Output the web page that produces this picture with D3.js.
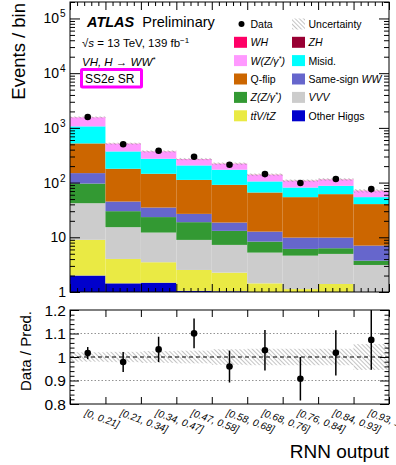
<!DOCTYPE html>
<html><head><meta charset="utf-8">
<script src="https://cdn.jsdelivr.net/npm/d3@7"></script>
<style>
body{margin:0;background:#fff}
svg{display:block;font-family:"Liberation Sans",Arial,Helvetica,sans-serif}
</style>
</head><body>
<svg id="chart" width="396" height="465"></svg>
<script>
// RNN output bins
const binLabels = ["[0, 0.21]", "[0.21, 0.34]", "[0.34, 0.47]", "[0.47, 0.58]", "[0.58, 0.68]",
                   "[0.68, 0.76]", "[0.76, 0.84]", "[0.84, 0.93]", "[0.93, 1]"];

// Expected events per bin, one array per process (stacked bottom to top)
const otherHiggs = [2.0, 1.44, 1.48, 1.05, 1.03, 0.5, 0.4, 0.4, 0.3];
const ttVtZ      = [7.0, 2.58, 2.02, 1.48, 1.23, 0.94, 0.73, 1.0, 0.5];
const vvv        = [33, 11.3, 8.7, 6.43, 5.0, 3.81, 3.49, 3.57, 2.32];
const zzg        = [54, 14.7, 11.2, 9.94, 5.84, 3.09, 1.51, 1.34, 0.62];
const ssWW       = [53, 15, 11.6, 7.9, 5.5, 4.36, 3.75, 3.57, 3.31];
const qflip      = [371, 134, 110, 85.2, 72.4, 53.2, 44.3, 51.6, 33.4];
const misid      = [546, 192, 128, 94, 81, 39.1, 27.1, 25.9, 13.8];
const wzg        = [486, 140.5, 96.1, 61.5, 47.7, 33, 25.9, 25.8, 16.0];
const zh         = [1.0, 0.5, 0.4, 0.3, 0.3, 0.2, 0.2, 0.2, 0.1];
const wh         = [4.0, 2.0, 1.5, 1.2, 1.0, 0.8, 0.6, 0.6, 0.5];

// Observed data and its statistical uncertainty
const dataCounts = [1583, 503, 383, 296, 212, 143, 98, 116, 76];
const dataErr    = [40, 22, 20, 17, 15, 12, 10, 11, 9];

// Relative uncertainty of the total prediction
const predRelUnc = [0.02, 0.022, 0.025, 0.027, 0.033, 0.035, 0.035, 0.035, 0.055];

// Axis tick labels
const mainYLabels  = [[1, "1", null], [10, "10", null], [100, "10", "2"], [1000, "10", "3"], [10000, "10", "4"], [100000, "10", "5"]];
const ratioYLabels = [0.8, 0.9, 1, 1.1, 1.2];

const processes = [
  {key: "otherHiggs", values: otherHiggs, color: "#0000cc"},
  {key: "ttVtZ",      values: ttVtZ,      color: "#eaea44"},
  {key: "vvv",        values: vvv,        color: "#cccccc"},
  {key: "zzg",        values: zzg,        color: "#339933"},
  {key: "ssWW",       values: ssWW,       color: "#6666cc"},
  {key: "qflip",      values: qflip,      color: "#cc6600"},
  {key: "misid",      values: misid,      color: "#00ffff"},
  {key: "wzg",        values: wzg,        color: "#ff99ff"},
  {key: "zh",         values: zh,         color: "#990033"},
  {key: "wh",         values: wh,         color: "#ff0066"}
];
const colorOf = Object.fromEntries(processes.map(p => [p.key, p.color]));

const nBins = binLabels.length;
const rows = d3.range(nBins).map(i => {
  const r = {bin: i};
  processes.forEach(p => r[p.key] = p.values[i]);
  return r;
});
const totals = rows.map(r => d3.sum(processes, p => r[p.key]));

// Layout
const left = 70, right = 389;
const mainTop = 2, mainBottom = 292;
const ratioTop = 310, ratioBottom = 404;

const svg = d3.select("#chart");
const defs = svg.append("defs");
const hatch = defs.append("pattern").attr("id", "hatch")
  .attr("patternUnits", "userSpaceOnUse").attr("width", 3).attr("height", 3)
  .attr("patternTransform", "rotate(-45)");
hatch.append("line").attr("x1", 0).attr("y1", 0).attr("x2", 0).attr("y2", 3)
  .attr("stroke", "#8a8a8a").attr("stroke-width", 1);

const x = d3.scaleLinear().domain([0, nBins]).range([left, right]);
const y = d3.scaleLog().domain([1, 2e5]).range([mainBottom, mainTop]).clamp(true);
const yr = d3.scaleLinear().domain([0.8, 1.2]).range([ratioBottom, ratioTop]).clamp(true);

// ---------- Main panel ----------
const stacked = d3.stack().keys(processes.map(p => p.key))(rows);
const gStack = svg.append("g");
stacked.forEach(layer => {
  gStack.selectAll(null).data(layer).join("rect")
    .attr("x", (d, i) => x(i))
    .attr("width", (d, i) => x(i + 1) - x(i))
    .attr("y", d => y(d[1]))
    .attr("height", d => Math.max(0, y(d[0]) - y(d[1])))
    .attr("fill", colorOf[layer.key]);
});

// prediction uncertainty on top of the stack
svg.append("g").selectAll("rect").data(totals).join("rect")
  .attr("x", (d, i) => x(i)).attr("width", (d, i) => x(i + 1) - x(i))
  .attr("y", (d, i) => y(d * (1 + predRelUnc[i])) - 0.5)
  .attr("height", (d, i) => y(d * (1 - predRelUnc[i])) - y(d * (1 + predRelUnc[i])) + 1)
  .attr("fill", "url(#hatch)");

// data points
const gData = svg.append("g");
gData.selectAll("line").data(dataCounts).join("line")
  .attr("x1", (d, i) => x(i + 0.5)).attr("x2", (d, i) => x(i + 0.5))
  .attr("y1", (d, i) => y(d + dataErr[i])).attr("y2", (d, i) => y(d - dataErr[i]))
  .attr("stroke", "#000").attr("stroke-width", 1.5);
gData.selectAll("circle").data(dataCounts).join("circle")
  .attr("cx", (d, i) => x(i + 0.5)).attr("cy", d => y(d)).attr("r", 3.3).attr("fill", "#000");

// axes of main panel
const logTicks = y.ticks().filter(v => v <= 2e5);
const isDecade = v => Math.abs(Math.log10(v) - Math.round(Math.log10(v))) < 1e-9;

const gyl = svg.append("g").attr("transform", `translate(${left},0)`)
  .call(d3.axisLeft(y).tickValues(logTicks).tickSize(-9).tickFormat(""));
gyl.select(".domain").remove();
gyl.selectAll(".tick line").attr("x2", d => isDecade(d) ? 10 : 5).attr("stroke", "#000");

const gyr = svg.append("g").attr("transform", `translate(${right},0)`)
  .call(d3.axisRight(y).tickValues(logTicks).tickSize(-9).tickFormat(""));
gyr.select(".domain").remove();
gyr.selectAll(".tick line").attr("x2", d => isDecade(d) ? -10 : -5).attr("stroke", "#000");

const xMinor = d3.range(0, nBins * 5 + 1).map(i => i / 5);
const isEdge = v => Math.abs(v - Math.round(v)) < 1e-9;

const gxb = svg.append("g").attr("transform", `translate(0,${mainBottom})`)
  .call(d3.axisBottom(x).tickValues(xMinor).tickSize(-7).tickFormat(""));
gxb.select(".domain").remove();
gxb.selectAll(".tick line").attr("y2", d => isEdge(d) ? -8 : -4).attr("stroke", "#000");

const gxt = svg.append("g").attr("transform", `translate(0,${mainTop})`)
  .call(d3.axisTop(x).tickValues(xMinor).tickSize(-7).tickFormat(""));
gxt.select(".domain").remove();
gxt.selectAll(".tick line").attr("y2", d => isEdge(d) ? 8 : 4).attr("stroke", "#000");

svg.append("rect").attr("x", left).attr("y", mainTop)
  .attr("width", right - left).attr("height", mainBottom - mainTop)
  .attr("fill", "none").attr("stroke", "#000").attr("stroke-width", 1);

// y tick labels with exponents
mainYLabels.forEach(([v, base, exp]) => {
  const t = svg.append("text").attr("x", exp ? 59 : 66).attr("y", y(v) + 5)
    .attr("text-anchor", "end").attr("font-size", 14).text(base);
  if (exp) {
    svg.append("text").attr("x", 60).attr("y", y(v) - 1)
      .attr("font-size", 10).text(exp);
  }
});

svg.append("text").attr("transform", `translate(25,${mainTop + 1}) rotate(-90)`)
  .attr("text-anchor", "end").attr("font-size", 18.5).text("Events / bin");

// ATLAS label and region text
const atlas = svg.append("text").attr("x", 87).attr("y", 27).attr("font-size", 14.5);
atlas.append("tspan").attr("font-weight", "bold").attr("font-style", "italic").text("ATLAS");
atlas.append("tspan").attr("dx", 8).text("Preliminary");

const energy = svg.append("text").attr("x", 82).attr("y", 47).attr("font-size", 11.5);
energy.append("tspan").text("\u221A");
energy.append("tspan").attr("font-style", "italic").text("s");
energy.append("tspan").text(" = 13 TeV, 139 fb");
energy.append("tspan").attr("dy", -4).attr("font-size", 8).text("\u22121");

const proc = svg.append("text").attr("x", 82).attr("y", 66).attr("font-size", 11.5).attr("font-style", "italic");
proc.append("tspan").text("VH, H \u2192 WW");
proc.append("tspan").attr("dy", -4).attr("font-size", 8).text("*");

svg.append("rect").attr("x", 81.5).attr("y", 69.5).attr("width", 60).attr("height", 17.5)
  .attr("fill", "none").attr("stroke", "#ff00ff").attr("stroke-width", 3).attr("rx", 1);
const sr = svg.append("text").attr("x", 85).attr("y", 83).attr("font-size", 12);
sr.append("tspan").text("SS2");
sr.append("tspan").attr("font-style", "italic").text("e");
sr.append("tspan").text(" SR");

// Legend
const legendRows = [24, 42.3, 60.6, 79, 97.4, 115.8];
const colX = [234, 292];
const legendItems = [
  {col: 0, row: 0, type: "data", parts: [["Data", false]]},
  {col: 1, row: 0, type: "hatch", parts: [["Uncertainty", false]]},
  {col: 0, row: 1, key: "wh", parts: [["WH", true]]},
  {col: 1, row: 1, key: "zh", parts: [["ZH", true]]},
  {col: 0, row: 2, key: "wzg", parts: [["W(Z/\u03B3", true], ["*", true, "sup"], [")", true]]},
  {col: 1, row: 2, key: "misid", parts: [["Misid.", false]]},
  {col: 0, row: 3, key: "qflip", parts: [["Q-flip", false]]},
  {col: 1, row: 3, key: "ssWW", parts: [["Same-sign ", false], ["WW", true]]},
  {col: 0, row: 4, key: "zzg", parts: [["Z(Z/\u03B3", true], ["*", true, "sup"], [")", true]]},
  {col: 1, row: 4, key: "vvv", parts: [["VVV", true]]},
  {col: 0, row: 5, key: "ttVtZ", parts: [["tt\u0304V/tZ", true]]},
  {col: 1, row: 5, key: "otherHiggs", parts: [["Other Higgs", false]]}
];
const gLeg = svg.append("g");
legendItems.forEach(it => {
  const bx = colX[it.col], cy = legendRows[it.row];
  if (it.type === "data") {
    gLeg.append("circle").attr("cx", bx + 7.5).attr("cy", cy).attr("r", 3).attr("fill", "#000");
  } else if (it.type === "hatch") {
    gLeg.append("rect").attr("x", bx).attr("y", cy - 5.5).attr("width", 13).attr("height", 11)
      .attr("fill", "url(#hatch)");
  } else {
    gLeg.append("rect").attr("x", bx).attr("y", cy - 5.5).attr("width", 13).attr("height", 11)
      .attr("fill", colorOf[it.key]);
  }
  const t = gLeg.append("text").attr("x", bx + 16.5).attr("y", cy + 4).attr("font-size", 10.5);
  it.parts.forEach(([s, ital, pos]) => {
    const sp = t.append("tspan").text(s);
    if (ital) sp.attr("font-style", "italic");
    if (pos === "sup") sp.attr("dy", -4).attr("font-size", 7.5);
    else if (t.selectAll("tspan").size() > 1 && it.parts.some(p => p[2] === "sup")) sp.attr("dy", 4);
  });
});

// ---------- Ratio panel ----------
const ratio = dataCounts.map((d, i) => d / totals[i]);
const ratioErr = dataErr.map((e, i) => e / totals[i]);

svg.append("g").selectAll("rect").data(predRelUnc).join("rect")
  .attr("x", (d, i) => x(i)).attr("width", (d, i) => x(i + 1) - x(i))
  .attr("y", d => yr(1 + d)).attr("height", d => yr(1 - d) - yr(1 + d))
  .attr("fill", "url(#hatch)");

[0.9, 1.1].forEach(v => {
  svg.append("line").attr("x1", left).attr("x2", right).attr("y1", yr(v)).attr("y2", yr(v))
    .attr("stroke", "#777").attr("stroke-width", 0.8).attr("stroke-dasharray", "1.5,2");
});
svg.append("line").attr("x1", left).attr("x2", right).attr("y1", yr(1)).attr("y2", yr(1))
  .attr("stroke", "#000").attr("stroke-width", 1.2).attr("stroke-dasharray", "4,3");

const gR = svg.append("g");
gR.selectAll("line").data(ratio).join("line")
  .attr("x1", (d, i) => x(i + 0.5)).attr("x2", (d, i) => x(i + 0.5))
  .attr("y1", (d, i) => yr(d + ratioErr[i])).attr("y2", (d, i) => yr(d - ratioErr[i]))
  .attr("stroke", "#000").attr("stroke-width", 1.5);
gR.selectAll("circle").data(ratio).join("circle")
  .attr("cx", (d, i) => x(i + 0.5)).attr("cy", d => yr(d)).attr("r", 3.3).attr("fill", "#000");

const ratioMinor = d3.range(0, 21).map(i => 0.8 + i * 0.02);
const isRatioMajor = v => Math.abs(v * 10 - Math.round(v * 10)) < 1e-6;

const grl = svg.append("g").attr("transform", `translate(${left},0)`)
  .call(d3.axisLeft(yr).tickValues(ratioMinor).tickSize(-8).tickFormat(""));
grl.select(".domain").remove();
grl.selectAll(".tick line").attr("x2", d => isRatioMajor(d) ? 9 : 4.5).attr("stroke", "#000");

const grr = svg.append("g").attr("transform", `translate(${right},0)`)
  .call(d3.axisRight(yr).tickValues(ratioMinor).tickSize(-8).tickFormat(""));
grr.select(".domain").remove();
grr.selectAll(".tick line").attr("x2", d => isRatioMajor(d) ? -9 : -4.5).attr("stroke", "#000");

const edges = d3.range(0, nBins + 1);
const grb = svg.append("g").attr("transform", `translate(0,${ratioBottom})`)
  .call(d3.axisBottom(x).tickValues(edges).tickSize(-7).tickFormat(""));
grb.select(".domain").remove();
grb.selectAll(".tick line").attr("stroke", "#000");
const grt = svg.append("g").attr("transform", `translate(0,${ratioTop})`)
  .call(d3.axisTop(x).tickValues(edges).tickSize(-7).tickFormat(""));
grt.select(".domain").remove();
grt.selectAll(".tick line").attr("stroke", "#000");

svg.append("rect").attr("x", left).attr("y", ratioTop)
  .attr("width", right - left).attr("height", ratioBottom - ratioTop)
  .attr("fill", "none").attr("stroke", "#000").attr("stroke-width", 1);

svg.append("g").selectAll("text").data(ratioYLabels).join("text")
  .attr("x", 66).attr("y", d => yr(d) + 5.5).attr("text-anchor", "end")
  .attr("font-size", 15.5).text(d => d3.format("")(d));

svg.append("text").attr("transform", `translate(31,${ratioTop + 1}) rotate(-90)`)
  .attr("text-anchor", "end").attr("font-size", 15).text("Data / Pred.");

// rotated bin labels
svg.append("g").selectAll("text").data(binLabels).join("text")
  .attr("transform", (d, i) => `translate(${x(i + 0.5) - 1},${ratioBottom + 4}) rotate(20)`)
  .attr("dy", "0.8em").attr("font-size", 10).attr("font-style", "italic").text(d => d);

svg.append("text").attr("x", right).attr("y", 458).attr("text-anchor", "end")
  .attr("font-size", 19).text("RNN output");
</script>
</body></html>
